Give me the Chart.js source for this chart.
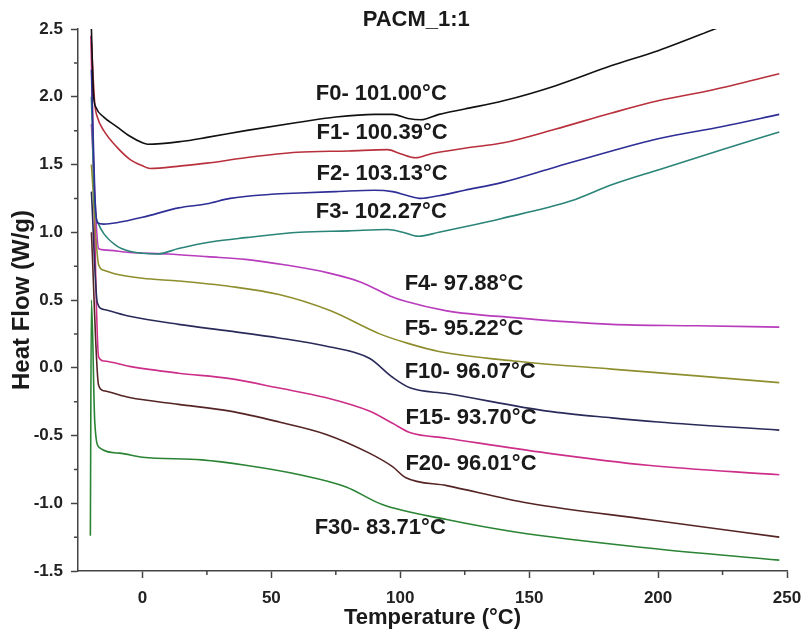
<!DOCTYPE html>
<html lang="en">
<head>
<meta charset="UTF-8">
<title>PACM_1:1 DSC curves</title>
<script src="https://cdn.jsdelivr.net/npm/chart.js"></script>
<style>
  body { margin: 0; background: #fff; }
  #wrap { width: 812px; height: 643px; }
</style>
</head>
<body>
<div id="wrap"><canvas id="dscChart" width="812" height="643"></canvas></div>
<script>
// temperature (°C) / heat flow (W/g)
const F0_T  = [-19.8, -19, -18, -15, -10, -5, 0, 2, 15, 25, 40, 60, 75, 90, 97, 103, 108, 115, 125, 140, 160, 182, 200, 222, 230];
const F0_HF = [2.5, 2.02, 1.92, 1.85, 1.78, 1.71, 1.66, 1.65, 1.67, 1.70, 1.75, 1.81, 1.85, 1.87, 1.87, 1.84, 1.83, 1.87, 1.91, 1.97, 2.08, 2.23, 2.34, 2.5, 2.56];

const F1_T  = [-19.8, -18.5, -17.5, -15, -10, -5, 0, 3, 15, 25, 40, 60, 80, 95, 100, 106, 112, 125, 140, 160, 182, 200, 221, 247];
const F1_HF = [2.4, 1.95, 1.85, 1.75, 1.63, 1.54, 1.49, 1.47, 1.49, 1.51, 1.55, 1.59, 1.6, 1.61, 1.58, 1.55, 1.58, 1.62, 1.66, 1.76, 1.88, 1.97, 2.05, 2.17];

const F2_T  = [-19.8, -18.5, -17.5, -15, -10, 0, 14, 25, 34, 50, 61, 75, 90, 97, 103, 108, 115, 125, 140, 160, 182, 200, 225, 247];
const F2_HF = [2.2, 1.3, 1.07, 1.06, 1.07, 1.11, 1.18, 1.21, 1.25, 1.28, 1.29, 1.3, 1.31, 1.3, 1.27, 1.25, 1.27, 1.31, 1.37, 1.48, 1.6, 1.69, 1.78, 1.87];

const F3_T  = [-19.8, -18.5, -17, -15, -10, -5, 0, 6, 14, 27, 40, 61, 80, 95, 101, 107, 115, 125, 139, 166, 182, 200, 225, 247];
const F3_HF = [2.0, 1.2, 1.06, 0.99, 0.9, 0.86, 0.845, 0.84, 0.88, 0.93, 0.96, 1.0, 1.01, 1.02, 1.0, 0.97, 1.0, 1.04, 1.1, 1.23, 1.35, 1.46, 1.61, 1.74];

const F4_T  = [-19.8, -17, -15, -5, 10, 25, 40, 55, 72, 85, 96, 102, 118, 144, 182, 215, 247];
const F4_HF = [1.8, 0.88, 0.87, 0.85, 0.84, 0.82, 0.8, 0.76, 0.7, 0.63, 0.53, 0.49, 0.42, 0.37, 0.32, 0.31, 0.3];

const F5_T  = [-19.8, -17, -15, -10, 0, 14, 34, 53, 73, 92, 103, 115, 144, 182, 215, 247];
const F5_HF = [1.5, 0.76, 0.72, 0.69, 0.66, 0.64, 0.6, 0.54, 0.42, 0.25, 0.18, 0.12, 0.05, -0.01, -0.06, -0.11];

const F10_T  = [-19.8, -17.5, -15, -5, 14, 34, 53, 71, 88, 97, 104, 118, 157, 182, 200, 247];
const F10_HF = [1.3, 0.48, 0.43, 0.38, 0.32, 0.27, 0.22, 0.16, 0.07, -0.07, -0.15, -0.19, -0.32, -0.37, -0.4, -0.46];

const F15_T  = [-20, -17, -15, -5, 14, 34, 53, 71, 88, 97, 104, 118, 157, 196, 247];
const F15_HF = [2.45, 0.08, 0.05, 0.01, -0.04, -0.08, -0.15, -0.22, -0.32, -0.41, -0.48, -0.52, -0.63, -0.72, -0.79];

const F20_T  = [-19.8, -17, -15, -5, 14, 34, 53, 71, 88, 97, 102, 118, 150, 196, 247];
const F20_HF = [1.0, -0.13, -0.17, -0.22, -0.27, -0.32, -0.4, -0.49, -0.63, -0.73, -0.81, -0.87, -1.0, -1.12, -1.25];

const F30_T  = [-20.2, -19.8, -18.5, -16.7, -9, 0, 23, 40, 61, 79, 93, 118, 144, 196, 247];
const F30_HF = [-1.24, 0.5, -0.4, -0.59, -0.63, -0.66, -0.68, -0.72, -0.79, -0.88, -1.01, -1.12, -1.21, -1.33, -1.42];

const X_TICKS = [0, 50, 100, 150, 200, 250];
const X_MINOR = [25, 75, 125, 175, 225];
const Y_TICKS = [-1.5, -1.0, -0.5, 0.0, 0.5, 1.0, 1.5, 2.0, 2.5];
const Y_MINOR = [-1.25, -0.75, -0.25, 0.25, 0.75, 1.25, 1.75, 2.25];

// curve annotations, anchored in data units (left edge, vertical middle)
const NOTE_TEXT = ['PACM_1:1', 'F0- 101.00°C', 'F1- 100.39°C', 'F2- 103.13°C', 'F3- 102.27°C',
  'F4- 97.88°C', 'F5- 95.22°C', 'F10- 96.07°C', 'F15- 93.70°C', 'F20- 96.01°C', 'F30- 83.71°C'];
const NOTE_X = [85.4, 67.2, 67.5, 67.5, 67.2, 101.7, 101.7, 101.7, 102, 102, 66.8];
const NOTE_Y = [2.57, 2.02, 1.73, 1.43, 1.15, 0.62, 0.29, -0.03, -0.37, -0.71, -1.18];

const FONT = 'Arial, "Liberation Sans", sans-serif';

function series(label, xs, ys, color) {
  return {
    label: label,
    data: xs.map((x, i) => ({ x: x, y: ys[i] })),
    borderColor: color,
    borderWidth: 1.6,
    pointRadius: 0,
    fill: false,
    cubicInterpolationMode: 'monotone'
  };
}

const minorTicks = {
  id: 'minorTicks',
  afterDraw(chart) {
    const ctx = chart.ctx, xs = chart.scales.x, ys = chart.scales.y, a = chart.chartArea;
    ctx.save();
    ctx.strokeStyle = '#444';
    ctx.lineWidth = 1.5;
    ctx.beginPath();
    X_MINOR.forEach(v => {
      const px = xs.getPixelForValue(v);
      ctx.moveTo(px, a.bottom); ctx.lineTo(px, a.bottom + 4);
    });
    Y_MINOR.forEach(v => {
      const py = ys.getPixelForValue(v);
      ctx.moveTo(a.left, py); ctx.lineTo(a.left - 4, py);
    });
    ctx.stroke();
    ctx.restore();
  }
};

const notes = {
  id: 'notes',
  afterDatasetsDraw(chart) {
    const ctx = chart.ctx, xs = chart.scales.x, ys = chart.scales.y;
    ctx.save();
    ctx.fillStyle = '#1a1a1a';
    ctx.font = 'bold 22px ' + FONT;
    ctx.textAlign = 'left';
    ctx.textBaseline = 'middle';
    NOTE_TEXT.forEach((t, i) => {
      ctx.fillText(t, xs.getPixelForValue(NOTE_X[i]), ys.getPixelForValue(NOTE_Y[i]));
    });
    ctx.restore();
  }
};

const axisStyle = {
  border: { display: true, color: '#444', width: 1.5 },
  grid: { drawOnChartArea: false, drawTicks: true, tickLength: 7, tickColor: '#444', tickWidth: 1.5 }
};

new Chart(document.getElementById('dscChart').getContext('2d'), {
  type: 'line',
  data: {
    datasets: [
      series('F0', F0_T, F0_HF, '#111111'),
      series('F1', F1_T, F1_HF, '#b8303c'),
      series('F2', F2_T, F2_HF, '#2e2e96'),
      series('F3', F3_T, F3_HF, '#2a8478'),
      series('F4', F4_T, F4_HF, '#b83cbc'),
      series('F5', F5_T, F5_HF, '#8e8e2e'),
      series('F10', F10_T, F10_HF, '#2a2a5a'),
      series('F15', F15_T, F15_HF, '#cc2e88'),
      series('F20', F20_T, F20_HF, '#552424'),
      series('F30', F30_T, F30_HF, '#2a8434')
    ]
  },
  options: {
    responsive: false,
    animation: false,
    devicePixelRatio: 1,
    layout: { padding: { top: 29, right: 25, left: 0, bottom: 0 } },
    plugins: { legend: { display: false }, tooltip: { enabled: false } },
    scales: {
      x: Object.assign({
        type: 'linear', min: -25, max: 250,
        afterBuildTicks: s => { s.ticks = X_TICKS.map(v => ({ value: v })); },
        afterFit: s => { s.height = 72; },
        ticks: { color: '#222', font: { family: FONT, size: 17, weight: 'bold' }, padding: 10, maxRotation: 0,
                 callback: v => String(v) },
        title: { display: true, text: 'Temperature (°C)', color: '#1a1a1a',
                 font: { family: FONT, size: 22, weight: 'bold' }, padding: { top: 0, bottom: 12 } }
      }, axisStyle),
      y: Object.assign({
        type: 'linear', min: -1.5, max: 2.5,
        afterBuildTicks: s => { s.ticks = Y_TICKS.map(v => ({ value: v })); },
        afterFit: s => { s.width = 78; },
        ticks: { color: '#222', font: { family: FONT, size: 17, weight: 'bold' }, padding: 8,
                 callback: v => Number(v).toFixed(1) },
        title: { display: true, text: 'Heat Flow (W/g)', color: '#1a1a1a',
                 font: { family: FONT, size: 24, weight: 'bold' }, padding: { top: 8, bottom: 0 } }
      }, axisStyle)
    }
  },
  plugins: [minorTicks, notes]
});
</script>
</body>
</html>
